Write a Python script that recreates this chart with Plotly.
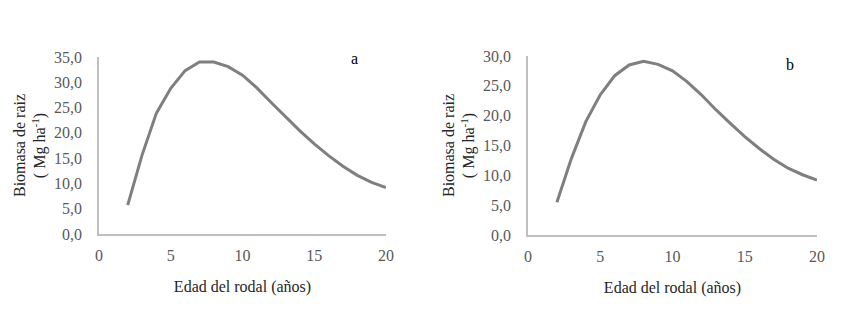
import plotly.graph_objects as go

edad = [2, 3, 4, 5, 6, 7, 8, 9, 10, 11, 12, 13, 14, 15, 16, 17, 18, 19, 20]
biomasa_a = [5.7, 15.6, 23.9, 28.8, 32.3, 34.0, 34.0, 33.1, 31.4, 28.9, 26.0, 23.1, 20.4, 17.8, 15.5, 13.4, 11.6, 10.2, 9.2]
biomasa_b = [5.5, 12.8, 19.0, 23.5, 26.7, 28.5, 29.1, 28.6, 27.5, 25.7, 23.5, 21.0, 18.7, 16.5, 14.5, 12.7, 11.2, 10.1, 9.2]
x_ticks = [0, 5, 10, 15, 20]
y_ticks_a = [0, 5, 10, 15, 20, 25, 30, 35]
y_ticks_b = [0, 5, 10, 15, 20, 25, 30]

FONT = "Liberation Serif, Times New Roman, serif"
LINE_COLOR = "#7f7f7f"
AXIS_COLOR = "#bfbfbf"
TICK_COLOR = "#595959"

fig = go.Figure()
fig.add_trace(go.Scatter(x=edad, y=biomasa_a, mode="lines", line=dict(color=LINE_COLOR, width=3),
                         xaxis="x", yaxis="y", showlegend=False))
fig.add_trace(go.Scatter(x=edad, y=biomasa_b, mode="lines", line=dict(color=LINE_COLOR, width=3),
                         xaxis="x2", yaxis="y2", showlegend=False))

OFF = 8  # default page body margin
W, H = 855 - OFF, 331 - OFF

def xd(a, b):
    return [(a - OFF) / W, (b - OFF) / W]

def yd(top, bottom):
    return [1 - (bottom - OFF) / H, 1 - (top - OFF) / H]

common_x = dict(range=[0, 20], tickvals=x_ticks, showgrid=False, zeroline=False,
                showline=True, linecolor=AXIS_COLOR, linewidth=1.5,
                ticks="outside", ticklen=6, tickcolor="rgba(0,0,0,0)",
                tickfont=dict(family=FONT, size=16, color=TICK_COLOR),
                title=dict(text="Edad del rodal (años)", font=dict(family=FONT, size=16, color="#262626"), standoff=18),
                automargin=False, fixedrange=True)
common_y = dict(showgrid=False, zeroline=False, showline=True, linecolor=AXIS_COLOR, linewidth=1.5,
                ticks="outside", ticklen=12, tickcolor="rgba(0,0,0,0)", tickformat=".1f",
                tickfont=dict(family=FONT, size=16, color=TICK_COLOR),
                title=dict(text="Biomasa de raiz<br>( Mg ha<sup>-1</sup>)", font=dict(family=FONT, size=16, color="#262626"), standoff=4),
                automargin=False, fixedrange=True)

fig.update_layout(
    width=W, height=H,
    margin=dict(l=0, r=0, t=0, b=0),
    paper_bgcolor="white", plot_bgcolor="white",
    separators=", ",
    xaxis=dict(domain=xd(99, 386), anchor="y", **common_x),
    yaxis=dict(domain=yd(57, 234), anchor="x", range=[0, 35], tickvals=y_ticks_a, **common_y),
    xaxis2=dict(domain=xd(528, 817), anchor="y2", **common_x),
    yaxis2=dict(domain=yd(56, 235), anchor="x2", range=[0, 30], tickvals=y_ticks_b, **common_y),
    annotations=[
        dict(text="a", x=17.8, y=34.8, xref="x", yref="y", showarrow=False,
             font=dict(family=FONT, size=16, color="black")),
        dict(text="b", x=18.1, y=28.6, xref="x2", yref="y2", showarrow=False,
             font=dict(family=FONT, size=16, color="black")),
    ],
)

fig.write_html("out.html")
